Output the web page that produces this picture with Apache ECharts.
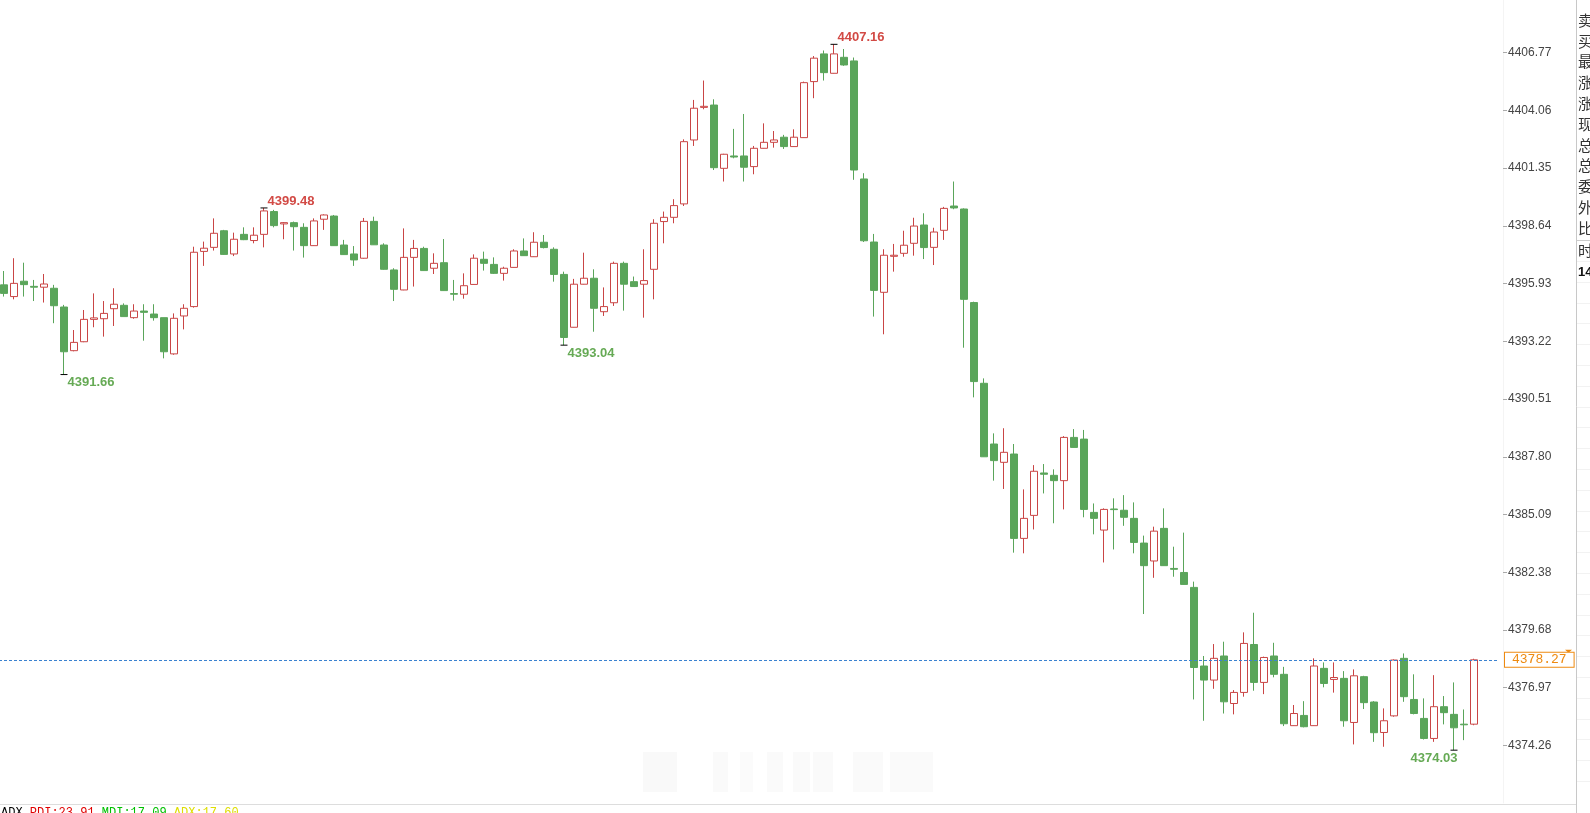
<!DOCTYPE html>
<html><head><meta charset="utf-8">
<script src="https://cdn.jsdelivr.net/npm/echarts@6/dist/echarts.min.js"></script>
<style>html,body{margin:0;padding:0;background:#fff;overflow:hidden}#c{width:1590px;height:813px}</style>
</head><body><div id="c"></div>
<script>
const opens = [4395.87,4395.32,4396.04,4395.80,4395.76,4395.71,4394.83,4392.78,4393.20,4394.25,
 4394.28,4394.75,4394.91,4394.33,4394.64,4394.50,4394.33,4392.63,4394.41,4394.85,
 4397.44,4397.63,4398.41,4397.32,4398.24,4397.95,4398.24,4399.31,4398.73,4398.79,
 4398.57,4397.71,4398.95,4399.10,4397.74,4397.32,4397.12,4398.85,4397.74,4396.57,
 4395.63,4397.16,4397.58,4396.65,4396.91,4395.46,4395.43,4395.89,4397.07,4396.83,
 4396.41,4396.69,4397.46,4397.19,4397.87,4397.54,4396.36,4393.88,4395.90,4396.18,
 4394.61,4395.03,4396.88,4396.02,4395.90,4396.60,4398.84,4399.04,4399.67,4402.67,
 4404.20,4404.31,4401.34,4401.92,4401.92,4401.42,4402.28,4402.56,4402.80,4402.36,
 4402.78,4405.41,4406.71,4405.80,4406.55,4406.38,4400.84,4397.88,4395.52,4397.21,
 4397.35,4397.82,4398.68,4397.63,4398.43,4399.57,4399.43,4395.04,4391.25,4388.40,
 4387.54,4387.93,4383.97,4385.05,4387.04,4386.93,4386.68,4388.71,4388.63,4385.19,
 4384.36,4385.35,4385.29,4384.91,4383.75,4382.91,4384.44,4382.56,4382.37,4381.67,
 4377.98,4377.32,4378.45,4376.22,4376.74,4378.99,4377.21,4378.45,4377.59,4375.18,
 4375.66,4375.18,4377.87,4377.35,4377.40,4375.33,4377.48,4376.29,4374.86,4375.64,
 4378.34,4376.41,4375.52,4374.58,4376.07,4375.71,4375.25,4375.25];
const closes = [4395.47,4395.94,4395.88,4395.76,4395.91,4394.89,4392.73,4393.17,4394.25,4394.32,
 4394.53,4394.96,4394.38,4394.64,4394.58,4394.33,4392.73,4394.30,4394.77,4397.40,
 4397.59,4398.29,4397.30,4398.01,4397.99,4398.20,4399.34,4398.65,4398.79,4398.60,
 4397.71,4398.87,4399.15,4397.71,4397.29,4397.04,4398.85,4397.75,4396.60,4395.66,
 4397.16,4397.58,4396.54,4396.88,4395.60,4395.43,4395.83,4397.12,4396.88,4396.41,
 4396.65,4397.46,4397.24,4397.87,4397.62,4396.36,4393.40,4395.90,4396.18,4394.77,
 4394.85,4396.88,4395.90,4395.79,4396.07,4398.76,4399.04,4399.59,4402.59,4404.16,
 4404.25,4401.37,4402.00,4401.87,4401.39,4402.28,4402.56,4402.67,4402.36,4402.80,
 4405.36,4406.51,4405.83,4406.71,4406.19,4401.26,4397.94,4395.61,4397.26,4397.26,
 4397.73,4398.63,4397.62,4398.35,4399.46,4399.48,4395.19,4391.33,4387.80,4387.62,
 4388.01,4383.97,4384.91,4387.12,4386.98,4386.68,4388.71,4388.24,4385.33,4384.91,
 4385.33,4385.32,4384.96,4383.78,4382.69,4384.31,4382.69,4382.52,4381.81,4377.91,
 4377.32,4378.34,4376.30,4376.74,4379.04,4377.21,4378.38,4377.59,4375.27,4375.75,
 4375.13,4377.98,4377.16,4377.44,4375.41,4377.52,4376.26,4374.85,4375.41,4378.26,
 4376.54,4375.75,4374.58,4376.07,4375.79,4375.08,4375.22,4378.27];
const lows = [4395.32,4395.19,4395.32,4395.11,4395.04,4394.07,4391.66,4392.75,4393.18,4393.88,
 4393.44,4393.94,4394.38,4394.28,4393.25,4394.19,4392.42,4392.59,4393.78,4394.80,
 4396.76,4397.48,4397.28,4397.22,4397.97,4397.82,4397.63,4398.57,4398.01,4397.48,
 4397.15,4397.70,4398.45,4397.70,4397.28,4396.76,4397.10,4397.74,4396.58,4395.11,
 4395.62,4395.79,4396.53,4396.38,4395.59,4395.13,4395.22,4395.88,4396.54,4396.38,
 4396.07,4396.68,4397.23,4397.18,4397.58,4396.02,4393.04,4393.87,4395.89,4393.67,
 4394.41,4394.88,4394.66,4395.78,4394.33,4395.19,4397.82,4398.76,4399.57,4402.39,
 4404.11,4401.26,4400.72,4401.81,4400.72,4401.06,4402.27,4402.31,4402.25,4402.35,
 4402.77,4404.63,4405.46,4405.79,4406.15,4400.80,4397.88,4394.38,4393.55,4396.49,
 4397.19,4397.24,4397.08,4396.80,4397.98,4399.42,4392.92,4390.59,4387.79,4386.68,
 4386.29,4383.30,4383.27,4384.39,4386.08,4384.68,4385.33,4388.23,4384.96,4384.16,
 4382.84,4383.45,4384.56,4383.27,4380.42,4382.12,4382.68,4382.17,4381.80,4376.41,
 4375.41,4376.91,4375.75,4375.71,4376.54,4376.82,4376.66,4377.45,4375.16,4375.17,
 4375.10,4375.17,4376.98,4376.73,4375.13,4374.30,4375.96,4374.42,4374.19,4375.60,
 4376.30,4375.71,4374.53,4374.42,4375.24,4374.03,4374.50,4375.20];
const highs = [4396.52,4397.12,4396.91,4396.10,4396.38,4395.87,4394.93,4393.75,4394.69,4395.47,
 4395.11,4395.71,4395.00,4394.96,4394.96,4394.96,4394.33,4394.53,4394.96,4397.66,
 4397.90,4398.99,4398.45,4398.32,4398.57,4398.57,4399.48,4399.39,4398.82,4398.84,
 4398.76,4398.99,4399.18,4399.15,4397.98,4397.69,4399.01,4399.07,4397.82,4396.65,
 4398.52,4397.98,4397.66,4397.35,4398.02,4396.10,4396.41,4397.30,4397.43,4397.16,
 4396.72,4397.54,4398.05,4398.34,4398.21,4397.63,4396.49,4396.15,4397.38,4396.60,
 4395.75,4396.96,4396.96,4396.26,4397.54,4398.95,4399.31,4399.89,4402.70,4404.55,
 4405.46,4404.58,4402.02,4403.19,4403.89,4402.39,4403.45,4403.09,4402.91,4403.17,
 4405.41,4406.61,4406.87,4407.16,4406.94,4406.54,4401.11,4398.26,4397.54,4397.79,
 4398.41,4399.02,4399.23,4398.55,4399.53,4400.72,4399.46,4395.08,4391.48,4388.90,
 4389.14,4388.40,4386.27,4387.41,4387.46,4387.21,4388.77,4389.10,4389.06,4385.61,
 4385.38,4385.85,4386.00,4385.66,4384.10,4384.52,4385.38,4383.58,4384.24,4381.94,
 4378.45,4379.01,4379.12,4376.85,4379.56,4380.48,4378.42,4379.07,4377.94,4376.15,
 4376.33,4378.34,4378.15,4378.15,4377.74,4377.82,4377.52,4376.33,4375.99,4378.29,
 4378.57,4377.59,4376.46,4377.55,4376.57,4377.21,4375.94,4378.32];
const yTicks = [4374.26,4376.97,4379.68,4382.38,4385.09,4387.80,4390.51,4393.22,4395.93,4398.64,4401.35,4404.06,4406.77];
const yMin = 4371.55, yMax = 4409.24;
const highMarks = [26, 83];
const lowMarks = [6, 56, 145];
const panelChars = ['卖','买','最','涨','涨','现','总','总','委','外','比'];
const adxParts = [['ADX ', 'k'], ['PDI:23.91 ', 'r'], ['MDI:17.09 ', 'g'], ['ADX:17.60', 'y']];

const padSlots = ['\u00a0', '\u00a0\u00a0'];
const categories = opens.map((_, i) => 'K' + (i + 1)).concat(padSlots);
const kData = opens.map((o, i) => [o, closes[i], lows[i], highs[i]]);
const lastClose = closes[closes.length - 1];

const RED = '#c94545', GREEN = '#5aa55a', PRICE_BLUE = '#3b82d0', TAG = '#ee8a10';

const markData = [];
highMarks.forEach(i => markData.push({
  coord: [i, highs[i]], value: highs[i],
  label: { position: 'right', distance: 0, offset: [0, -7], color: '#d24a45' }
}));
lowMarks.forEach(i => markData.push({
  coord: [i, lows[i]], value: lows[i],
  label: i > opens.length - 10
    ? { position: 'left', distance: 0, offset: [7, 8], color: '#66aa55' }
    : { position: 'right', distance: 0, offset: [0, 8], color: '#66aa55' }
}));

const chart = echarts.init(document.getElementById('c'), null, { renderer: 'canvas' });

const graphics = [];
// right info panel
graphics.push({ type: 'line', silent: true, shape: { x1: 1576.5, y1: 0, x2: 1576.5, y2: 813 }, style: { stroke: '#c8c8c8', lineWidth: 1 } });
panelChars.forEach((ch, i) => graphics.push({
  type: 'text', silent: true, x: 1578, y: 20 + i * 20.8,
  style: { text: ch, fill: '#333', font: '15px "Noto Sans CJK SC"', textVerticalAlign: 'middle' }
}));
graphics.push({ type: 'line', silent: true, shape: { x1: 1577, y1: 240.5, x2: 1590, y2: 240.5 }, style: { stroke: '#cccccc', lineWidth: 1 } });
graphics.push({ type: 'text', silent: true, x: 1578, y: 250, style: { text: '时', fill: '#333', font: '15px "Noto Sans CJK SC"', textVerticalAlign: 'middle' } });
graphics.push({ type: 'text', silent: true, x: 1578, y: 272, style: { text: '14', fill: '#111', font: 'bold 13px "Liberation Sans"', textVerticalAlign: 'middle' } });
for (let k = 0; k < 26; k++) {
  const yy = Math.round(261 + k * 20.8) + 0.5;
  graphics.push({ type: 'line', silent: true, shape: { x1: 1577, y1: yy, x2: 1590, y2: yy }, style: { stroke: '#f2f2f2', lineWidth: 1 } });
}
// bottom indicator strip
graphics.push({ type: 'line', silent: true, shape: { x1: 0, y1: 804.5, x2: 1576, y2: 804.5 }, style: { stroke: '#dddddd', lineWidth: 1 } });
graphics.push({
  type: 'text', silent: true, x: 1, y: 807,
  style: {
    text: adxParts.map(p => '{' + p[1] + '|' + p[0] + '}').join(''),
    font: '12px "Liberation Mono"', textVerticalAlign: 'top',
    rich: {
      k: { fill: '#000', font: '12px "Liberation Mono"' },
      r: { fill: '#e00000', font: '12px "Liberation Mono"' },
      g: { fill: '#00c000', font: '12px "Liberation Mono"' },
      y: { fill: '#dede00', font: '12px "Liberation Mono"' }
    }
  }
});
// faint blurred watermark
[[643, 34, 0.025], [713, 15, 0.018], [740, 13, 0.015], [767, 16, 0.018], [793, 17, 0.018], [813, 20, 0.02], [853, 30, 0.02], [890, 43, 0.02]].forEach(w => {
  graphics.push({ type: 'rect', silent: true, z: -1, shape: { x: w[0], y: 752, width: w[1], height: 40 },
    style: { fill: 'rgba(0,0,0,' + w[2] + ')', shadowBlur: 10, shadowColor: 'rgba(0,0,0,0.05)' } });
});

const option = {
  animation: false,
  backgroundColor: '#ffffff',
  grid: { left: -1, right: 91, top: 0, bottom: 10, containLabel: false, outerBoundsMode: 'none' },
  xAxis: {
    type: 'category', data: categories, boundaryGap: true,
    axisLine: { show: false }, axisTick: { show: false }, axisLabel: { show: false }, splitLine: { show: false }
  },
  yAxis: {
    type: 'value', position: 'right', offset: 4, min: yMin, max: yMax, scale: true,
    axisLine: { show: true, lineStyle: { color: '#f4f4f4' } },
    axisTick: { show: true, length: 4, customValues: yTicks, lineStyle: { color: '#aaaaaa' } },
    axisLabel: { show: true, customValues: yTicks, margin: 5, color: '#444', fontSize: 12, fontFamily: '"Liberation Sans", Arial',
      formatter: v => { let best = yTicks[0]; yTicks.forEach(t => { if (Math.abs(t - v) < Math.abs(best - v)) best = t; }); return best.toFixed(2); } },
    splitLine: { show: false }
  },
  series: [{
    type: 'candlestick',
    data: kData,
    barWidth: 7,
    z: 3,
    itemStyle: { color: '#ffffff', color0: GREEN, borderColor: RED, borderColor0: GREEN, borderWidth: 1 },
    markPoint: {
      silent: true,
      symbol: 'rect', symbolSize: [7, 1],
      itemStyle: { color: '#000' },
      label: { show: true, fontSize: 13, fontWeight: 'bold', fontFamily: '"Liberation Sans", Arial', formatter: p => Number(p.value).toFixed(2) },
      data: markData
    },
    markLine: {
      silent: true, symbol: ['none', 'none'],
      lineStyle: { color: PRICE_BLUE, type: [3, 2], width: 1, opacity: 1 },
      emphasis: { disabled: true },
      label: { show: true, position: 'end', distance: 6, formatter: p => Number(p.value).toFixed(2),
        color: TAG, backgroundColor: '#ffffff', borderColor: TAG, borderWidth: 1,
        padding: [1, 7, 0, 7], fontSize: 13, lineHeight: 13, fontFamily: '"Liberation Mono", monospace' },
      data: [{ yAxis: lastClose, lineStyle: { color: PRICE_BLUE } }]
    }
  }],
  graphic: graphics
};
chart.setOption(option);

// small orange arrows above the price tag, positioned through the price scale
const py = chart.convertToPixel({ yAxisIndex: 0 }, lastClose);
const tri = (y0) => ({ type: 'polygon', silent: true, shape: { points: [[1565, y0], [1572, y0], [1568.5, y0 + 3]] }, style: { fill: TAG } });
chart.setOption({ graphic: graphics.concat([tri(py - 10), tri(py - 6.5)]) });
</script>
</body></html>
